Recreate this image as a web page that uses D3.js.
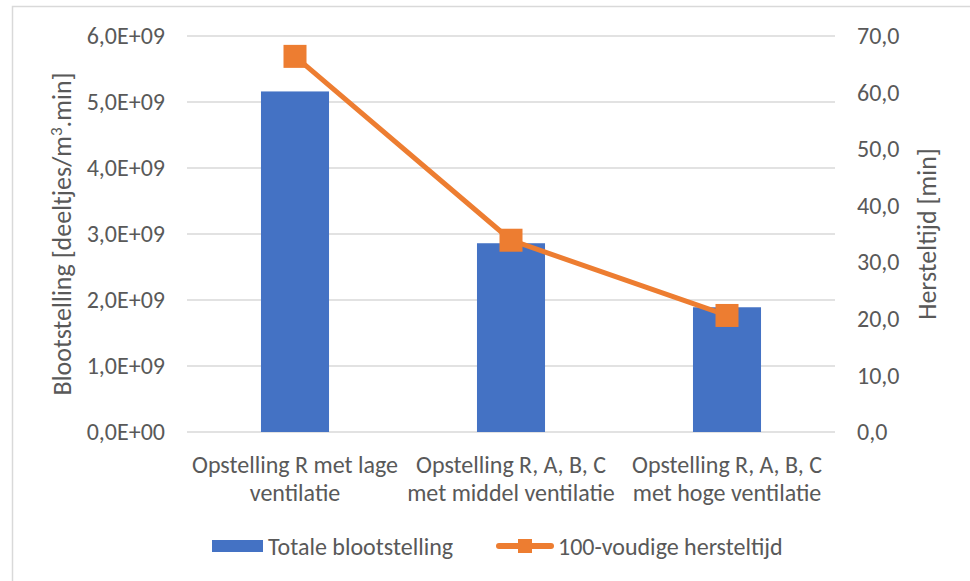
<!DOCTYPE html>
<html>
<head>
<meta charset="utf-8">
<script src="https://cdn.jsdelivr.net/npm/d3@7"></script>
<style>
  html,body{margin:0;padding:0;background:#fff}
  svg text{font-family:Carlito,Calibri,Lato,sans-serif;fill:#595959}
</style>
</head>
<body>
<svg id="chart" width="970" height="581"></svg>
<script>
// data
const categories = [
  ['Opstelling R met lage', 'ventilatie'],
  ['Opstelling R, A, B, C', 'met middel ventilatie'],
  ['Opstelling R, A, B, C', 'met hoge ventilatie']
]
const exposure = [5.16e9, 2.86e9, 1.89e9]   // Totale blootstelling
const recovery = [66.4, 33.9, 20.6]         // 100-voudige hersteltijd
const leftTicks = [0, 1e9, 2e9, 3e9, 4e9, 5e9, 6e9]
const rightTicks = [0, 10, 20, 30, 40, 50, 60, 70]
const seriesNames = ['Totale blootstelling', '100-voudige hersteltijd']

const BLUE = '#4472C4', ORANGE = '#ED7D31', GRID = '#d9d9d9'
const FS = 24, TS = 26

const svg = d3.select('#chart')
const m = {left:187, right:835, top:36, bottom:432}

// chart frame (only top & left edges are inside the picture)
svg.append('rect').attr('x',12.5).attr('y',6.5).attr('width',1000).attr('height',700)
  .attr('fill','none').attr('stroke','#d9d9d9').attr('stroke-width',1.5)

const x = d3.scaleBand().domain(d3.range(categories.length))
  .range([m.left, m.right]).paddingInner(0.685).paddingOuter(0.3425)
const yL = d3.scaleLinear().domain([0, 6e9]).range([m.bottom, m.top])
const yR = d3.scaleLinear().domain([0, 70]).range([m.bottom, m.top])

// gridlines
svg.append('g').selectAll('line').data(leftTicks).enter().append('line')
  .attr('x1', m.left).attr('x2', m.right)
  .attr('y1', d=>yL(d)).attr('y2', d=>yL(d))
  .attr('stroke', GRID).attr('stroke-width', 1.5)

// axes
const fmtL = d=>{
  const e = d===0 ? 0 : Math.floor(Math.log10(d))
  const mant = d===0 ? 0 : d/Math.pow(10,e)
  return mant.toFixed(1).replace('.', ',') + 'E+' + String(e).padStart(2,'0')
}
const axL = svg.append('g').attr('transform', `translate(${m.left},0)`)
  .call(d3.axisLeft(yL).tickValues(leftTicks).tickFormat(fmtL).tickSize(0).tickPadding(22))
axL.select('.domain').remove()
axL.selectAll('text').attr('font-size', FS).attr('dy','0.32em').style('font-family', null)

const axR = svg.append('g').attr('transform', `translate(${m.right},0)`)
  .call(d3.axisRight(yR).tickValues(rightTicks).tickFormat(d=>d.toFixed(1).replace('.', ',')).tickSize(0).tickPadding(22))
axR.select('.domain').remove()
axR.selectAll('text').attr('font-size', FS).attr('dy','0.32em').style('font-family', null)

// bars
svg.append('g').selectAll('rect').data(exposure).enter().append('rect')
  .attr('x', (d,i)=>x(i)).attr('width', x.bandwidth())
  .attr('y', d=>yL(d)).attr('height', d=>yL(0)-yL(d))
  .attr('fill', BLUE)

// line + square markers
const cx = i=>x(i)+x.bandwidth()/2
const line = d3.line().x((d,i)=>cx(i)).y(d=>yR(d))
svg.append('path').datum(recovery).attr('d', line)
  .attr('fill','none').attr('stroke', ORANGE).attr('stroke-width', 5).attr('stroke-linejoin','round')
const ms = 23
svg.append('g').selectAll('rect').data(recovery).enter().append('rect')
  .attr('x', (d,i)=>cx(i)-ms/2).attr('y', d=>yR(d)-ms/2)
  .attr('width', ms).attr('height', ms).attr('fill', ORANGE)

// category labels
const cat = svg.append('g')
categories.forEach((lines,i)=>{
  lines.forEach((t,j)=>{
    cat.append('text').attr('x', cx(i)).attr('y', 473 + j*28)
      .attr('text-anchor','middle').attr('font-size', FS).text(t)
  })
})

// axis titles
const tl = svg.append('text').attr('transform','translate(63,234) rotate(-90)')
  .attr('text-anchor','middle').attr('dy','0.32em').attr('font-size', TS)
tl.append('tspan').text('Blootstelling [deeltjes/m')
tl.append('tspan').attr('font-size', 17).attr('dy','-0.55em').text('3')
tl.append('tspan').attr('dy','0.35em').text('.min]')

svg.append('text').attr('transform','translate(928,234) rotate(-90)')
  .attr('text-anchor','middle').attr('dy','0.32em').attr('font-size', TS).text('Hersteltijd [min]')

// legend
const lg = svg.append('g')
lg.append('rect').attr('x',212).attr('y',540).attr('width',51).attr('height',12).attr('fill', BLUE)
lg.append('text').attr('x',268).attr('y',547).attr('dy','0.32em').attr('font-size',FS).text(seriesNames[0])
lg.append('line').attr('x1',499).attr('x2',551).attr('y1',546).attr('y2',546)
  .attr('stroke', ORANGE).attr('stroke-width',6).attr('stroke-linecap','round')
lg.append('rect').attr('x',518).attr('y',539).attr('width',14).attr('height',14).attr('fill', ORANGE)
lg.append('text').attr('x',558).attr('y',547).attr('dy','0.32em').attr('font-size',FS).text(seriesNames[1])
</script>
</body>
</html>
